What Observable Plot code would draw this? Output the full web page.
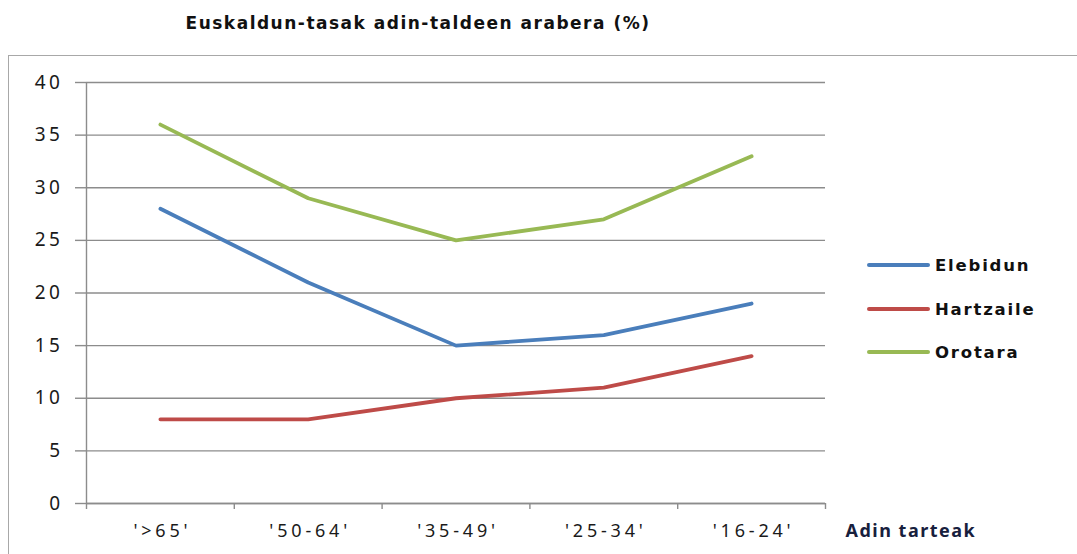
<!DOCTYPE html>
<html>
<head>
<meta charset="utf-8">
<script src="https://cdn.jsdelivr.net/npm/d3@7"></script>
<script src="https://cdn.jsdelivr.net/npm/@observablehq/plot@0.6"></script>
<style>
  html, body { margin: 0; padding: 0; background: #fff; }
  #wrap { position: relative; width: 1077px; height: 554px; overflow: hidden; font-family: "DejaVu Sans", sans-serif; }
  #border { position: absolute; left: 8px; top: 55px; width: 1200px; height: 700px; border: 1.6px solid #a8a8a8; box-sizing: border-box; }
  #title { position: absolute; left: 0; width: 836px; top: 13px; text-align: center; font-weight: bold; font-size: 17px; letter-spacing: 1.5px; color: #111; white-space: nowrap; }
  #chart { position: absolute; left: 0; top: 0; }
  #chart g[aria-label="y-axis tick label"] text { letter-spacing: 3.5px; }
  #chart g[aria-label="x-axis tick label"] text { letter-spacing: 3.8px; }
  #chart g[aria-label="text"] text { letter-spacing: 1.5px; }
  .leg { position: absolute; left: 867px; height: 20px; display: flex; align-items: center; font-weight: bold; font-size: 16.5px; letter-spacing: 1.8px; color: #111; }
  .leg span.sw { display: inline-block; width: 63px; height: 4px; border-radius: 2px; margin-right: 5px; }
</style>
</head>
<body>
<div id="wrap">
  <div id="border"></div>
  <div id="title"></div>
  <div id="chart"></div>
</div>
<script>
const titleText = "Euskaldun-tasak adin-taldeen arabera (%)";
const xAxisLabel = "Adin tarteak";
const categories = ["'>65'", "'50-64'", "'35-49'", "'25-34'", "'16-24'"];
const elebidun = [28, 21, 15, 16, 19];
const hartzaile = [8, 8, 10, 11, 14];
const orotara = [36, 29, 25, 27, 33];
const seriesNames = ["Elebidun", "Hartzaile", "Orotara"];
const seriesColors = ["#4a7ebb", "#be4b48", "#98b954"];
const yTicks = [0, 5, 10, 15, 20, 25, 30, 35, 40];

const seriesValues = [elebidun, hartzaile, orotara];
const rows = [];
seriesNames.forEach((name, s) => {
  seriesValues[s].forEach((v, i) => rows.push({series: name, i, value: v}));
});
const boundaries = d3.range(categories.length + 1).map(k => k - 0.5);
const centers = d3.range(categories.length);

document.getElementById("title").textContent = titleText;

const gridColor = "#8c8c8c";
const plot = Plot.plot({
  width: 1077,
  height: 554,
  marginLeft: 86,
  marginRight: 252,
  marginTop: 82,
  marginBottom: 51,
  style: {background: "transparent", overflow: "visible"},
  x: {type: "linear", domain: [-0.5, categories.length - 0.5]},
  y: {domain: [0, 40]},
  color: {domain: seriesNames, range: seriesColors},
  marks: [
    Plot.gridY(yTicks, {stroke: gridColor, strokeOpacity: 1, strokeWidth: 1.4}),
    Plot.axisY(yTicks, {tickSize: 11, tickPadding: 12, stroke: gridColor, strokeWidth: 1.4, fontSize: 19, fill: "#1a1a1a", label: null}),
    Plot.ruleX([-0.5], {stroke: gridColor, strokeWidth: 1.4}),
    Plot.ruleY([0], {stroke: gridColor, strokeWidth: 1.4}),
    Plot.axisX(boundaries, {tickSize: 6, stroke: gridColor, strokeWidth: 1.4, tickFormat: () => "", label: null}),
    Plot.axisX(centers, {tickSize: 0, tickPadding: 21, dx: 2, tickFormat: i => categories[i], fontSize: 18, fill: "#1a1a1a", label: null}),
    Plot.lineY(rows, {x: "i", y: "value", z: "series", stroke: "series", strokeWidth: 3.8, strokeLinecap: "round", strokeLinejoin: "round"}),
    Plot.text([xAxisLabel], {frameAnchor: "bottom-right", dx: 20, dy: 33, textAnchor: "start", fontWeight: "bold", fontSize: 18, fill: "#17203d"})
  ]
});
document.getElementById("chart").appendChild(plot);

const legendTops = [265, 309, 352];
const wrap = document.getElementById("wrap");
seriesNames.forEach((name, s) => {
  const row = document.createElement("div");
  row.className = "leg";
  row.style.top = (legendTops[s] - 10) + "px";
  const sw = document.createElement("span");
  sw.className = "sw";
  sw.style.background = seriesColors[s];
  const t = document.createElement("span");
  t.textContent = name;
  row.appendChild(sw);
  row.appendChild(t);
  wrap.appendChild(row);
});
</script>
</body>
</html>
